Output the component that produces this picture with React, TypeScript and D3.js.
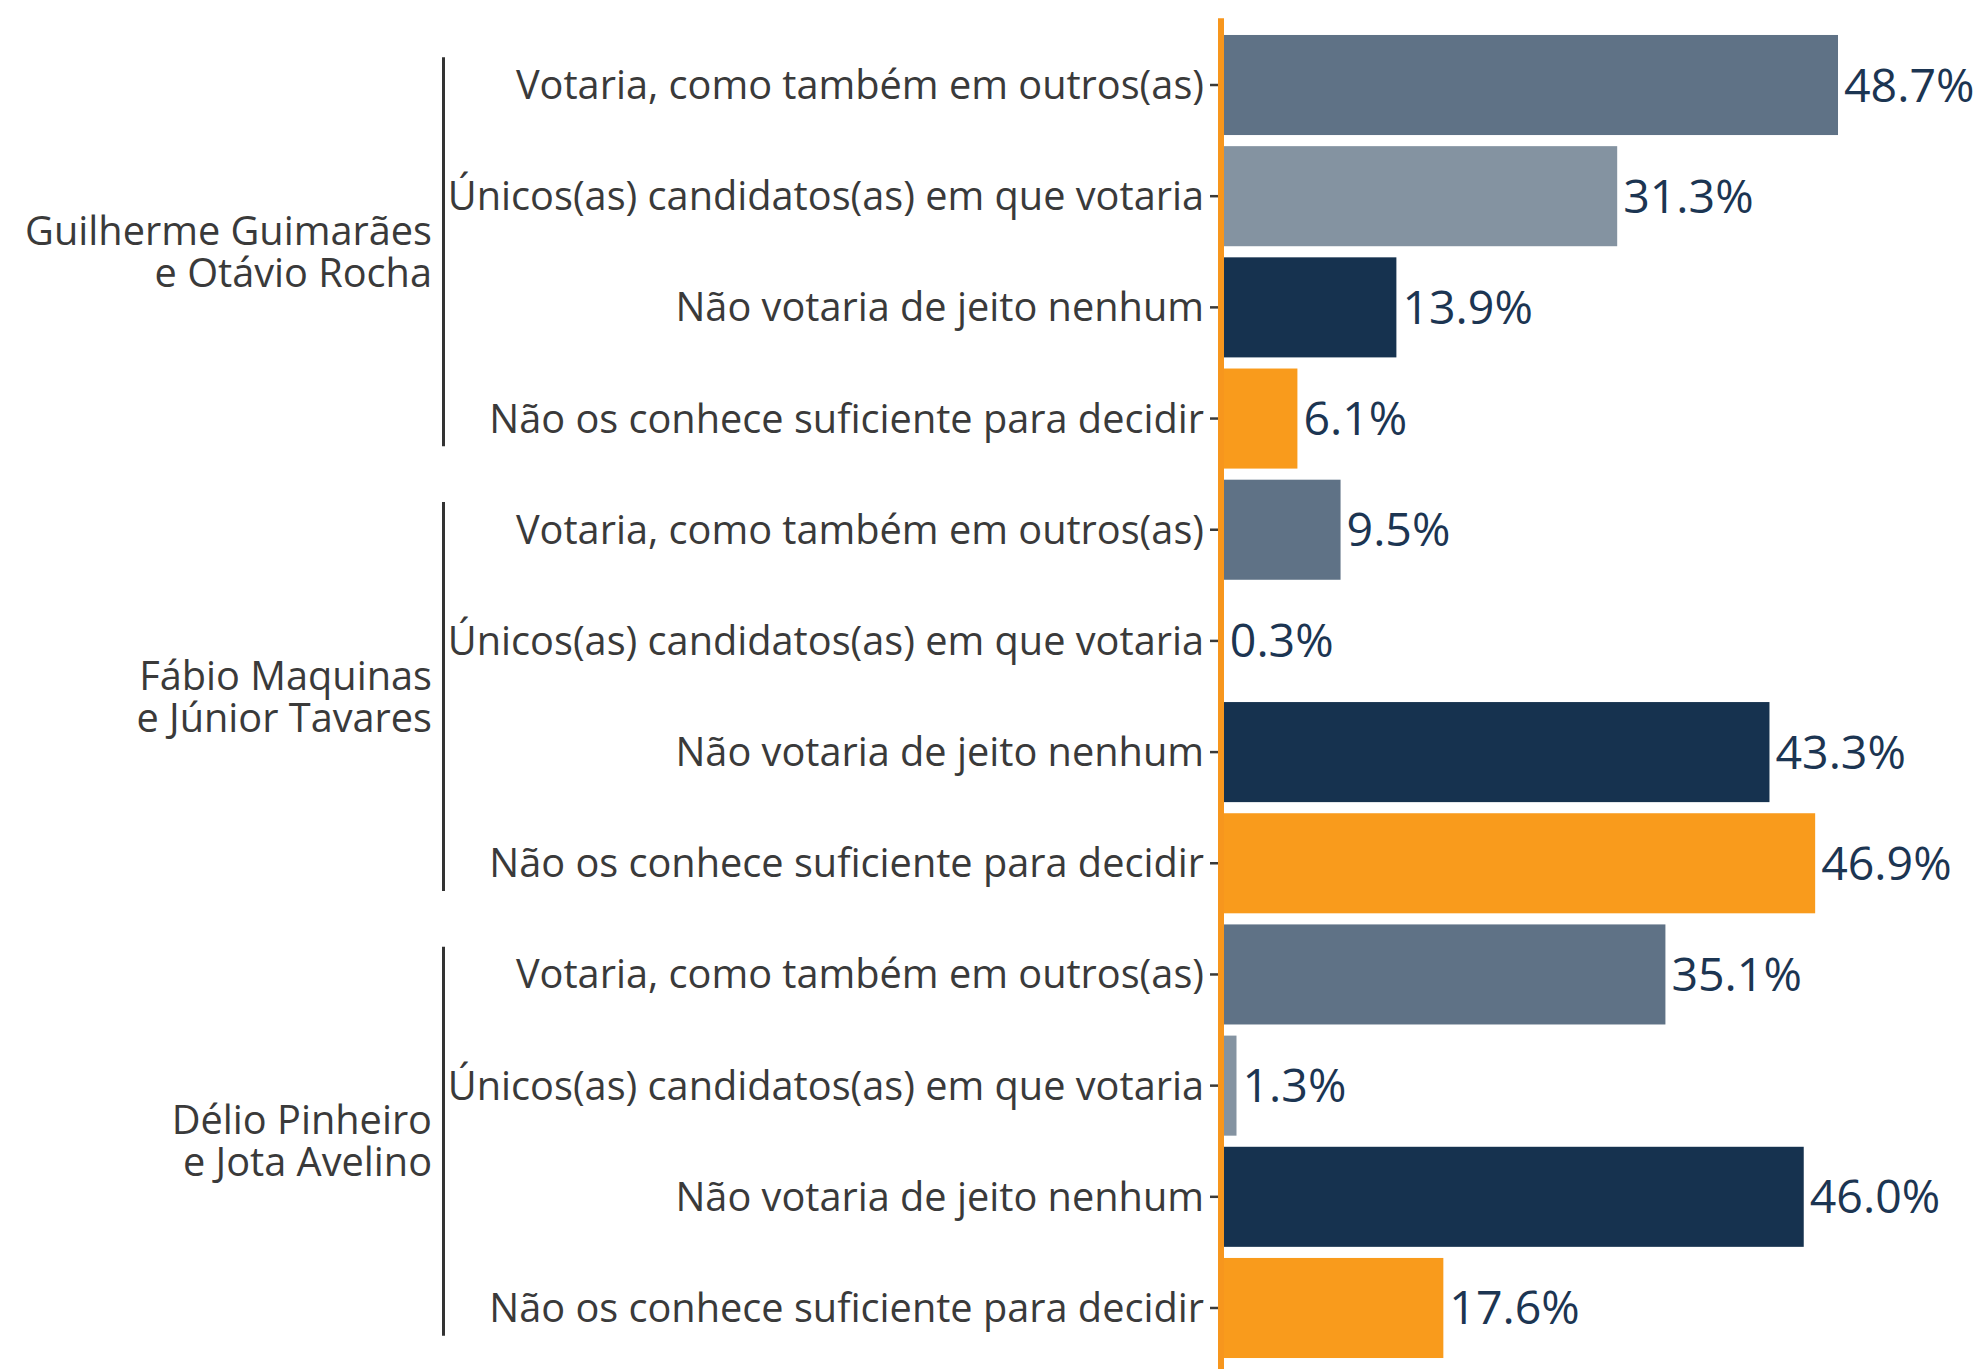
import { scaleLinear, scalePoint, scaleOrdinal } from "d3";

const WIDTH = 1987;
const HEIGHT = 1369;

const candidates = [
  ["Guilherme Guimarães", "e Otávio Rocha"],
  ["Fábio Maquinas", "e Júnior Tavares"],
  ["Délio Pinheiro", "e Jota Avelino"],
];
const answers = [
  "Votaria, como também em outros(as)",
  "Únicos(as) candidatos(as) em que votaria",
  "Não votaria de jeito nenhum",
  "Não os conhece suficiente para decidir",
];
const guilhermeValues = [48.7, 31.3, 13.9, 6.1];
const fabioValues = [9.5, 0.3, 43.3, 46.9];
const delioValues = [35.1, 1.3, 46.0, 17.6];
const answerColors = ["#5f7286", "#8493a1", "#16324f", "#f99b1c"];

const allValues = [guilhermeValues, fabioValues, delioValues];
const rows = candidates.flatMap((_, g) =>
  answers.map((answer, a) => ({ id: `${g}-${a}`, group: g, answer, value: allValues[g][a] }))
);

const FONT = "'Open Sans', 'Noto Sans', sans-serif";
const TEXT = "#3a3a3a";
const LABEL_SIZE = 39.7;

export default function App() {
  const y = scalePoint<string>()
    .domain(rows.map((r) => r.id))
    .range([18.3, 1374.7])
    .padding(0.6);
  const step = y.step();
  const barH = step * 0.9;
  const x = scaleLinear().domain([0, 50]).range([1220, 1220 + 50 * 12.69]);
  const color = scaleOrdinal<string, string>().domain(answers).range(answerColors);

  return (
    <>
      <style>{"body{margin:0}"}</style>
      <svg width={WIDTH} height={HEIGHT} style={{ display: "block", background: "#fff" }} fontFamily={FONT}>
        {rows.map((r) => {
          const cy = y(r.id)!;
          return (
            <g key={r.id}>
              <rect
                x={x(0)}
                y={cy - barH / 2}
                width={x(r.value) - x(0)}
                height={barH}
                fill={color(r.answer)}
              />
              <text x={x(r.value) + 6} y={cy + 16.5} fontSize={46.5} fill="#1c3552">
                {r.value.toFixed(1)}%
              </text>
              <line x1={1210} x2={1219} y1={cy} y2={cy} stroke={TEXT} strokeWidth={2.5} />
              <text x={1204} y={cy + 14} fontSize={LABEL_SIZE} fill={TEXT} textAnchor="end">
                {r.answer}
              </text>
            </g>
          );
        })}
        <line x1={1221} x2={1221} y1={y.range()[0]} y2={HEIGHT} stroke="#f7961d" strokeWidth={6} />
        {candidates.map((lines, g) => {
          const first = y(`${g}-0`)!;
          const last = y(`${g}-${answers.length - 1}`)!;
          const mid = (first + last) / 2;
          return (
            <g key={g}>
              <line x1={443.5} x2={443.5} y1={first - step / 4} y2={last + step / 4} stroke="#333" strokeWidth={3} />
              {lines.map((l, i) => (
                <text key={i} x={432} y={mid - 21 + 14 + i * 42} fontSize={LABEL_SIZE} fill={TEXT} textAnchor="end">
                  {l}
                </text>
              ))}
            </g>
          );
        })}
      </svg>
    </>
  );
}
